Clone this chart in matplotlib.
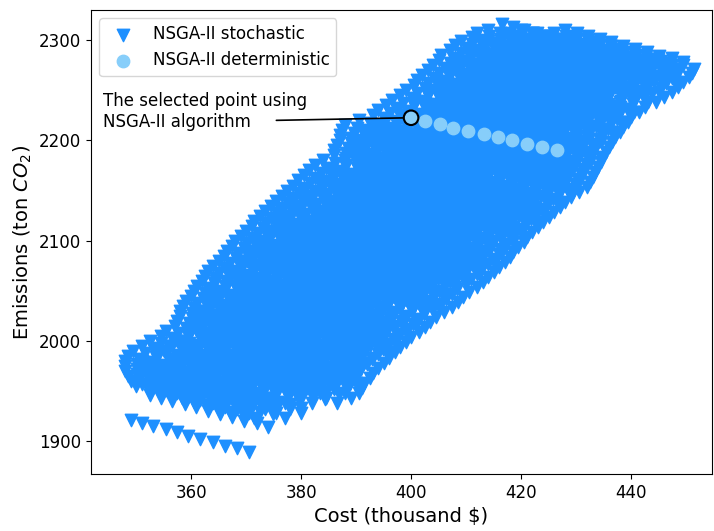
import matplotlib
matplotlib.use("Agg")
import matplotlib.pyplot as plt
import numpy as np

# deterministic NSGA-II front
det_cost = [400.0, 402.5, 405.3, 407.7, 410.4, 413.3, 415.8, 418.3, 421.1, 423.9, 426.5]
det_em = [2222.6, 2219.2, 2215.9, 2212.6, 2209.3, 2205.9, 2203.3, 2200.0, 2196.7, 2193.3, 2190.0]

# shape of one stochastic front (offsets from its first point)
step_cost = [0, 2.1, 4.1, 6.4, 8.4, 10.5, 12.7, 14.9, 17.1, 19.4, 21.5]
step_em = [0, -2.6, -5.6, -8.9, -12.2, -15.6, -18.9, -22.2, -25.6, -28.2, -31.6]

# first points of the stochastic fronts: emission level and the costs at that level
level_em = [1921, 1946, 1955, 1960, 1965, 1970, 1975, 1980, 1985, 1990, 1995, 2000,
            2005, 2010, 2015, 2020, 2025, 2030, 2035, 2040, 2045, 2050, 2055, 2060,
            2065, 2070, 2075, 2080, 2085, 2090, 2095, 2100, 2105, 2110, 2115, 2120,
            2125, 2130, 2135, 2140, 2145, 2150, 2155, 2160, 2165, 2170, 2175, 2180,
            2185, 2190, 2195, 2200, 2205, 2210, 2215, 2220, 2225, 2230, 2235, 2240,
            2245, 2250, 2255, 2260, 2265, 2270, 2275, 2280, 2285, 2290, 2295, 2299,
            2303, 2307, 2310, 2316]
level_cost = [
    [349],
    [352.5],
    [350, 355.5],
    [349, 354, 358.5],
    [348.5, 353.5, 358.5],
    [348, 351, 355.5, 360.5, 365],
    [348, 353, 358, 363, 367.5],
    [348, 351, 356.5, 362, 366.5, 369],
    [348.5, 354, 359.5, 364.5, 369.5],
    [349.5, 353.5, 358.5, 363.5, 368.5, 370],
    [351, 356, 361, 366, 371],
    [352.5, 357.5, 362.5, 367.5, 371.5],
    [354.5, 359.5, 364.5, 369, 372.5],
    [355.5, 360, 365, 370, 373.5],
    [357, 362, 367, 371.5, 374.5],
    [357.5, 360.5, 365.5, 370, 374.5, 375.5],
    [358, 363, 368, 372.5, 376.5],
    [358, 361, 366, 371, 375.5, 377.5],
    [358.5, 363.5, 368.5, 373.5, 378.5],
    [359, 362.5, 367.5, 372.5, 377.5, 380],
    [360, 365, 370, 375.5, 381],
    [360.5, 363.5, 368.5, 374, 379.5, 382],
    [361, 366.5, 372, 377.5, 383],
    [362, 364.5, 370, 375.5, 381, 384.5],
    [362.5, 368, 373.5, 379, 383.5, 386],
    [363, 366.5, 371.5, 377, 382, 387],
    [364, 369.5, 375, 380.5, 385, 388],
    [365, 368.5, 374, 379.5, 384, 389],
    [366, 371.5, 377, 382, 386.5, 390.5],
    [366.5, 370, 375.5, 381, 385.5, 391.5],
    [367.5, 373, 378.5, 383.5, 388, 392.5],
    [368, 371.5, 377, 382, 386.5, 391, 393.5],
    [369, 374.5, 380, 385, 390, 394.5],
    [370, 373.5, 379, 384, 389, 393.5, 395.5],
    [371, 376.5, 381.5, 386.5, 391.5, 396.5],
    [371.5, 375, 380.5, 385.5, 390.5, 395, 397],
    [372.5, 378, 383, 388, 393, 398],
    [373.5, 376.5, 382.5, 387.5, 392.5, 397, 399],
    [374.5, 380, 385, 390, 395, 399.5],
    [375.5, 378.5, 384.5, 389.5, 394.5, 398.5, 400.5],
    [376.5, 382, 387, 392, 397, 401.5],
    [377.5, 380.5, 386.5, 391.5, 396.5, 401, 402.5],
    [378.5, 384, 389, 394, 399, 403.5],
    [379.5, 383, 388.5, 393.5, 398.5, 402.5, 404.5],
    [380.5, 386, 391, 396, 401, 405.5],
    [381.5, 385, 390.5, 395.5, 400.5, 405, 406.5],
    [382.5, 388, 393, 398, 403, 407.5],
    [384, 388, 393.5, 398.5, 403.5, 408, 409],
    [386, 391, 396, 401, 406, 410.5],
    [386, 389, 394, 399.5, 404.5, 409, 411],
    [386.5, 391.5, 397, 402, 407, 411.5],
    [387, 390, 395, 400.5, 405.5, 410, 412],
    [387, 392.5, 398, 403, 408, 412.5],
    [387.5, 391, 396, 401.5, 406.5, 411, 413],
    [388, 393.5, 399, 404, 409, 413],
    [390.5, 395.5, 401, 406, 410.5, 414],
    [393, 398, 403, 408, 412, 414.5],
    [394, 397.5, 403, 408, 413, 415],
    [395.5, 400.5, 405.5, 410.5, 415.5],
    [396.5, 400.5, 405.5, 410.5, 415, 416.5],
    [398, 403, 408, 412.5, 417],
    [399, 403, 408, 413, 417, 418],
    [400.5, 405.5, 410.5, 415, 418.5],
    [401, 404.5, 409.5, 414.5, 419, 420],
    [402, 407, 412, 416.5, 421],
    [403, 406.5, 411.5, 416.5, 421.5, 423],
    [404, 409, 414, 419, 424.5],
    [405, 408, 413, 418, 423.5, 426],
    [405.5, 410.5, 415.5, 421, 427],
    [407, 411, 416, 421, 426.5, 428],
    [408, 413, 418.5, 424, 429],
    [409, 414, 420, 426, 429.5],
    [411, 418, 424, 430],
    [412, 417, 422, 426],
    [414, 420, 428],
    [416.5],
]

sto_cost = []
sto_em = []
for em0, costs in zip(level_em, level_cost):
    for c0 in costs:
        sto_cost.extend(c0 + np.array(step_cost))
        sto_em.extend(em0 + np.array(step_em))

fig = plt.figure(figsize=(7.14, 5.31), dpi=100)
ax = fig.add_axes([0.1275, 0.107, 0.8695, 0.874])

ax.scatter(sto_cost, sto_em, marker="v", s=80, color="dodgerblue", label="NSGA-II stochastic")
ax.scatter(det_cost, det_em, marker="o", s=80, color="lightskyblue", label="NSGA-II deterministic")
ax.scatter(det_cost[0], det_em[0], marker="o", s=110, facecolor="none", edgecolor="black", linewidths=1.5)

ax.text(344, 2229, "The selected point using\nNSGA-II algorithm", fontsize=12, ha="left", va="center")
ax.annotate("", xy=(det_cost[0], det_em[0]), xytext=(375.5, 2220),
            arrowprops=dict(arrowstyle="-", color="black", shrinkA=0, shrinkB=6, lw=1.2))

ax.set_xlim(341.8, 454.7)
ax.set_ylim(1867, 2330)
ax.set_xticks([360, 380, 400, 420, 440])
ax.set_yticks([1900, 2000, 2100, 2200, 2300])
ax.tick_params(labelsize=12)
ax.set_xlabel("Cost (thousand \\$)", fontsize=14)
ax.set_ylabel("Emissions (ton $CO_2$)", fontsize=14)
ax.legend(loc="upper left", fontsize=12)

fig.savefig("out.png", dpi=100)
